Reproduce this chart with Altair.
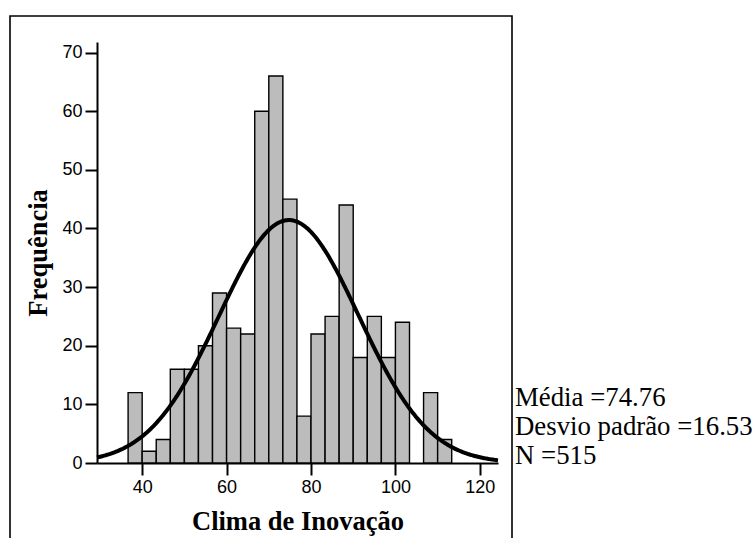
import altair as alt
import pandas as pd

# ---- data ----
counts = [12, 2, 4, 16, 16, 20, 29, 23, 22, 60, 66, 45, 8, 22, 25, 44, 18, 25, 18, 24, 0, 12, 4]
first_bin_start = 110 / 3
bin_width = 10 / 3
mean_val = 74.76
sd_val = 16.53
n_val = 515
x_ticks = [40, 60, 80, 100, 120]
y_ticks = [0, 10, 20, 30, 40, 50, 60, 70]
stats_lines = ["Média =74.76", "Desvio padrão =16.53", "N =515"]
x_title = "Clima de Inovação"
y_title = "Frequência"

df = pd.DataFrame({
    "count": counts,
    "lo": [first_bin_start + i * bin_width for i in range(len(counts))],
})
df["hi"] = df["lo"] + bin_width
df = df[df["count"] > 0]

W, H = 401, 421
LEFT, TOP = 97, 42

xscale = alt.Scale(domain=[29.3, 124.3], nice=False, zero=False)
yscale = alt.Scale(domain=[0, 71.8], nice=False)

bars = alt.Chart(df).mark_bar(fill="#bcbcbc", stroke="black", strokeWidth=1.4).encode(
    x=alt.X("lo:Q", scale=xscale,
            axis=alt.Axis(values=x_ticks, title=x_title, titleX=W / 2, titleY=66,
                          titleBaseline="alphabetic", titleAlign="center")),
    x2="hi:Q",
    y=alt.Y("count:Q", scale=yscale,
            axis=alt.Axis(values=y_ticks, title=y_title, titleX=-59, titleY=H / 2,
                          titleAngle=-90, titleAlign="center", titleBaseline="middle")),
    y2=alt.datum(0),
)

curve = alt.Chart(alt.sequence(29.3, 124.31, 0.25, as_="x")).transform_calculate(
    y=f"{n_val} * {bin_width} * densityNormal(datum.x, {mean_val}, {sd_val})"
).mark_line(color="black", strokeWidth=4).encode(
    x=alt.X("x:Q", scale=xscale),
    y=alt.Y("y:Q", scale=yscale),
)

frame = alt.Chart(pd.DataFrame({"a": [0]})).mark_rect(
    fillOpacity=0, stroke="black", strokeWidth=1.6
).encode(
    x=alt.value(10 - LEFT), x2=alt.value(512 - LEFT),
    y=alt.value(16 - TOP), y2=alt.value(560 - TOP),
)

stats = alt.Chart(pd.DataFrame({"a": [0]})).mark_text(
    text=stats_lines, align="left", baseline="alphabetic",
    font="Liberation Serif", fontSize=26.8, lineHeight=29, color="black"
).encode(x=alt.value(515 - LEFT), y=alt.value(406 - TOP))

chart = alt.layer(frame, bars, curve, stats).properties(
    width=W, height=H,
    background="white",
    autosize=alt.AutoSizeParams(type="none"),
    padding={"left": LEFT, "top": TOP, "right": 755 - LEFT - W, "bottom": 538 - TOP - H},
).configure_view(stroke=None).configure_axis(
    grid=False,
    domainColor="black", domainWidth=2,
    tickColor="black", tickWidth=2, tickSize=12,
    labelFont="Liberation Sans", labelFontSize=18, labelColor="black", labelPadding=3,
    titleFont="Liberation Serif", titleFontWeight="bold", titleFontSize=26.5, titleColor="black",
)

chart.save("out.html", embed_options={"renderer": "svg", "actions": False})
